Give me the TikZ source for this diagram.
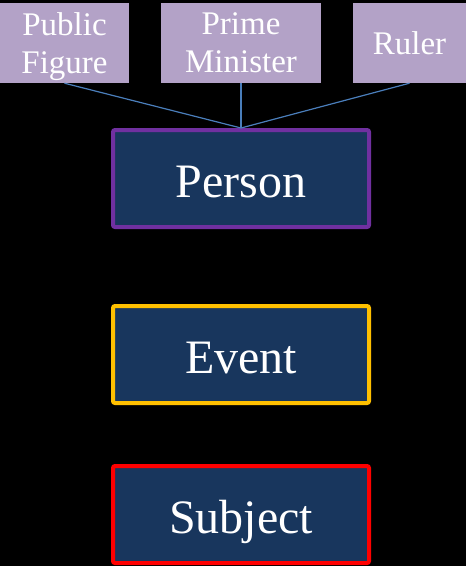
\documentclass[tikz,border=0pt]{standalone}
\usepackage{fontspec}
\setmainfont{Liberation Serif}
\usepackage{xcolor}
\usepackage{tikz}
\usetikzlibrary{shapes, arrows.meta}
\definecolor{lavender}{RGB}{179,162,199}
\definecolor{navybox}{RGB}{24,54,93}
\definecolor{purpleline}{RGB}{112,48,160}
\definecolor{goldline}{RGB}{255,192,0}
\definecolor{linkblue}{RGB}{74,126,187}
\tikzstyle{role} = [rectangle, minimum height=80pt, text centered, align=center, fill=lavender, text=white, inner sep=0pt, text depth=0pt, font=\fontsize{33}{38}\selectfont]
\tikzstyle{entity} = [rectangle, rounded corners=2pt, minimum width=256pt, minimum height=97pt, text centered, fill=navybox, text=white, line width=4pt, text height=38pt, text depth=0pt, font=\fontsize{48}{58}\selectfont]
\tikzstyle{link} = [line width=1.2pt, draw=linkblue]

\begin{document}
\begin{tikzpicture}[x=1pt, y=-1pt]
\useasboundingbox [fill=black] (0,0) rectangle (466,566);
\node (pub) [role, minimum width=129pt] at (64.5,43) {Public\\Figure};
\node (pm) [role, minimum width=160pt] at (241,43) {Prime\\Minister};
\node (rul) [role, minimum width=113pt] at (409.5,43) {Ruler};
\node (person) [entity, draw=purpleline] at (241,178.5) {Person};
\node (event) [entity, draw=goldline] at (241,354.5) {Event};
\node (subject) [entity, draw=red] at (241,514.5) {Subject};

%---------------------------------LINKS
\draw [link] (pub.south) -- (person.north);
\draw [link] (pm.south) -- (person.north);
\draw [link] (rul.south) -- (person.north);

\end{tikzpicture}
\end{document}
